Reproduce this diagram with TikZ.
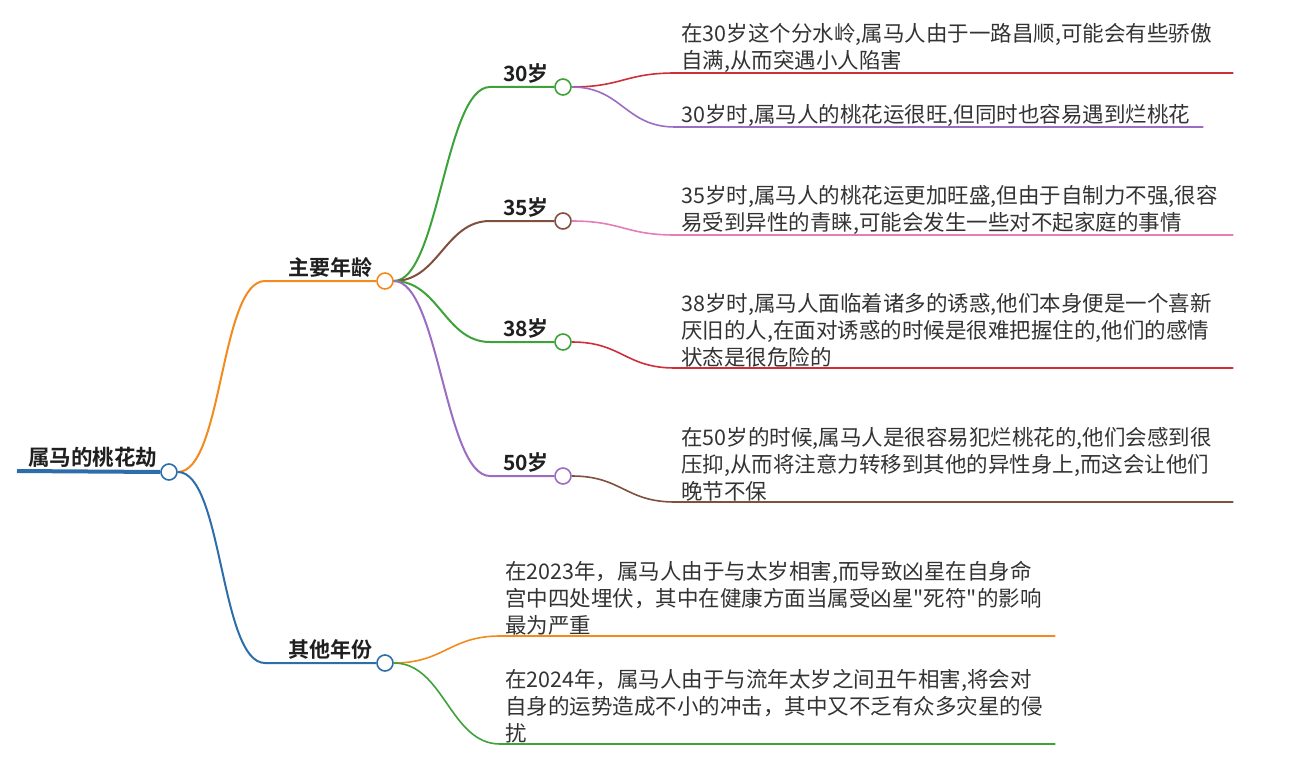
\documentclass[tikz,border=0pt]{standalone}
\usepackage{fontspec}
\setmainfont{Noto Sans CJK SC}[BoldFont={Noto Sans CJK SC Bold}]
\newfontfamily\quotefont{Noto Sans CJK SC}
\usetikzlibrary{positioning}
\definecolor{RootBlue}{HTML}{2C6DAA}
\definecolor{BrOrange}{HTML}{F38A1D}
\definecolor{BrGreen}{HTML}{3DA23A}
\definecolor{BrBrown}{HTML}{80503F}
\definecolor{BrPurple}{HTML}{9C6CC2}
\definecolor{BrRed}{HTML}{CF2E3B}
\definecolor{BrPink}{HTML}{E57DBA}
\definecolor{TxtGray}{HTML}{333333}
\newcommand{\qq}{{\quotefont"}}

\begin{document}
\begin{tikzpicture}[x=1pt,y=-1pt,
  dot/.style={circle,draw,fill=white,line width=1.6pt,minimum size=16pt,
              inner sep=0pt},
  lbl/.style={font=\fontsize{21}{24}\selectfont\bfseries,text=black!88,
              inner xsep=0pt,inner ysep=0pt,anchor=south west},
  leaf/.style={font=\fontsize{21.5}{27}\selectfont,text=TxtGray,align=left,
               inner xsep=6pt,inner ysep=0.5pt,anchor=south west,
               text width=546pt},
  low/.style={leaf,inner xsep=5pt,text width=545pt},
  br/.style={line width=2pt},
  tw/.style={line width=1.6pt}]
\useasboundingbox (0,0) rectangle (1290,757);

% root
\coordinate (r0) at (17,471);
\node[dot,draw=RootBlue] (root) at (169,472) {};
\node[lbl,font=\fontsize{21.5}{24}\selectfont\bfseries] (rootlbl) at (28,468) {属马的桃花劫};
\draw[RootBlue,line width=4pt] (r0) -- (root.west);

% first level
\node[dot,draw=BrOrange] (main) at (385,281) {};
\node[dot,draw=RootBlue] (other) at (385,663) {};
\coordinate (m0) at (265,281);
\coordinate (o0) at (265,663);
\node[lbl] (mainlbl) at (288,278) {主要年龄};
\node[lbl] (otherlbl) at (288,660) {其他年份};
\draw[br,BrOrange] (root.east) .. controls +(45,0) and +(-45,0) .. (m0) -- (main.west);
\draw[br,RootBlue] (root.east) .. controls +(45,0) and +(-45,0) .. (o0) -- (other.west);

% ages
\node[dot,draw=BrGreen]  (a30) at (563,87)  {};
\node[dot,draw=BrBrown]  (a35) at (563,221) {};
\node[dot,draw=BrGreen]  (a38) at (563,342) {};
\node[dot,draw=BrPurple] (a50) at (563,476) {};
\coordinate (b30) at (490,87);
\coordinate (b35) at (490,221);
\coordinate (b38) at (490,342);
\coordinate (b50) at (490,476);
\node[lbl] (t30) at (503,84)  {30岁};
\node[lbl] (t35) at (503,218) {35岁};
\node[lbl] (t38) at (503,339) {38岁};
\node[lbl] (t50) at (503,473) {50岁};
\draw[br,BrGreen]  (main.east) .. controls +(45,0) and +(-45,0) .. (b30) -- (a30.west);
\draw[br,BrBrown]  (main.east) .. controls +(45,0) and +(-45,0) .. (b35) -- (a35.west);
\draw[br,BrGreen]  (main.east) .. controls +(45,0) and +(-45,0) .. (b38) -- (a38.west);
\draw[br,BrPurple] (main.east) .. controls +(45,0) and +(-45,0) .. (b50) -- (a50.west);

% leaves
\node[leaf] (l1) at (675,73) {在30岁这个分水岭,属马人由于一路昌顺,可能会有些骄傲\\自满,从而突遇小人陷害};
\node[leaf,text width=516pt] (l2) at (675,127) {30岁时,属马人的桃花运很旺,但同时也容易遇到烂桃花};
\node[leaf] (l3) at (675,235) {35岁时,属马人的桃花运更加旺盛,但由于自制力不强,很容\\易受到异性的青睐,可能会发生一些对不起家庭的事情};
\node[leaf] (l4) at (675,368) {38岁时,属马人面临着诸多的诱惑,他们本身便是一个喜新\\厌旧的人,在面对诱惑的时候是很难把握住的,他们的感情\\状态是很危险的};
\node[leaf] (l5) at (675,502) {在50岁的时候,属马人是很容易犯烂桃花的,他们会感到很\\压抑,从而将注意力转移到其他的异性身上,而这会让他们\\晚节不保};
\node[low] (l6) at (500,636) {在2023年，属马人由于与太岁相害,而导致凶星在自身命\\宫中四处埋伏，其中在健康方面当属受凶星\qq 死符\qq 的影响\\最为严重};
\node[low] (l7) at (500,744) {在2024年，属马人由于与流年太岁之间丑午相害,将会对\\自身的运势造成不小的冲击，其中又不乏有众多灾星的侵\\扰};
\draw[tw,BrRed]    (a30.east) .. controls +(50,0) and +(-50,0) .. (l1.south west) -- (l1.south east);
\draw[tw,BrPurple] (a30.east) .. controls +(50,0) and +(-50,0) .. (l2.south west) -- (l2.south east);
\draw[tw,BrPink]   (a35.east) .. controls +(50,0) and +(-50,0) .. (l3.south west) -- (l3.south east);
\draw[tw,BrRed]    (a38.east) .. controls +(50,0) and +(-50,0) .. (l4.south west) -- (l4.south east);
\draw[tw,BrBrown]  (a50.east) .. controls +(50,0) and +(-50,0) .. (l5.south west) -- (l5.south east);
\draw[tw,BrOrange] (other.east) .. controls +(50,0) and +(-50,0) .. (l6.south west) -- (l6.south east);
\draw[tw,BrGreen]  (other.east) .. controls +(50,0) and +(-50,0) .. (l7.south west) -- (l7.south east);
\end{tikzpicture}
\end{document}
